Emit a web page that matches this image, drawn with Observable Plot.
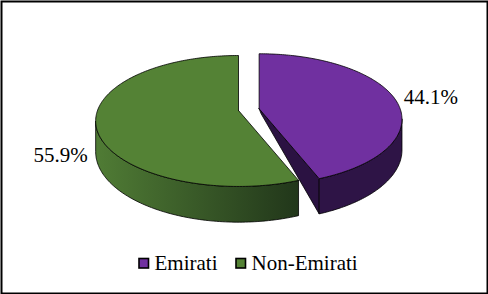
<!DOCTYPE html>
<html><head><meta charset="utf-8">
<script src="https://cdn.jsdelivr.net/npm/d3@7"></script>
<script src="https://cdn.jsdelivr.net/npm/@observablehq/plot@0.6"></script>
<style>body{margin:0;background:#fff}#chart svg{display:block}</style>
</head><body><div id="chart"></div>
<script>
// ---- data ----
const categories = ["Emirati", "Non-Emirati"];
const shares = [44.1, 55.9];
const valueLabels = ["44.1%", "55.9%"];

// ---- style / layout ----
const W = 488, H = 294;
const topColors = ["#7030a0", "#548235"];
const sideColors = ["#2e1446", "url(#greenSide)"];
const cutColors = ["#2b1242", "#22371a"];
const explode = [21, 0];
const geom = {cx: 238, cy: 110, R: 141, Rc: 63.8, q: 0.16, d: 30};
const font = "Liberation Serif";

const total = d3.sum(shares);
let acc = 0;
const slices = categories.map((c, i) => {
  const a0 = acc / total * 2 * Math.PI; acc += shares[i];
  const a1 = acc / total * 2 * Math.PI;
  return {c, i, a0, a1, mid: (a0 + a1) / 2};
});
function apex(s) { const e = explode[s.i]; return [geom.cx + e * Math.sin(s.mid), geom.cy - e * Math.cos(s.mid) * 0.45]; }
function P(s, t, h) {
  const [ax, ay] = apex(s); const Z = -Math.cos(t); const k = 1 / (1 - geom.q * Z);
  return [ax + geom.R * Math.sin(t) * k, ay + geom.Rc * Z * k + h * geom.d * k];
}
function arc(s, t0, t1, h) {
  const n = Math.max(2, Math.ceil(Math.abs(t1 - t0) / (Math.PI / 180)));
  return d3.range(n + 1).map(j => P(s, t0 + (t1 - t0) * j / n, h));
}
const sil0 = Math.acos(-geom.q), sil1 = 2 * Math.PI - sil0;

const sides = [], tops = [];
for (const s of slices) {
  if (Math.sin(s.a1) > 0.05) {
    const a = apex(s), rt = P(s, s.a1, 0), rb = P(s, s.a1, 1);
    sides.push({pts: [a, rt, rb, [a[0] + 2, a[1] + 5], a], fill: cutColors[s.i]});
  }
  const t0 = Math.max(s.a0, sil0), t1 = Math.min(s.a1, sil1);
  if (t1 > t0) {
    const pts = arc(s, t0, t1, 0).concat(arc(s, t1, t0, 1));
    pts.push(pts[0]);
    sides.push({pts, fill: sideColors[s.i]});
  }
  const a = apex(s);
  tops.push({pts: [a, ...arc(s, s.a0, s.a1, 0), a], fill: topColors[s.i]});
}

function labelPos(s) {
  const Z = -Math.cos(s.mid);
  return P(s, s.mid, Z > 0 ? 1 : 0);
}
const right = slices.filter(s => Math.sin(s.mid) >= 0);
const left = slices.filter(s => Math.sin(s.mid) < 0);

const legendItems = categories.map((c, i) => ({c, i}));
const legendX = [139, 236], legendY = 263;

const marks = [];
for (const p of [...sides, ...tops]) {
  marks.push(Plot.line(p.pts, {x: d => d[0], y: d => d[1], fill: p.fill, stroke: "#000", strokeWidth: 0.8, curve: "linear", strokeLinejoin: "round"}));
}
marks.push(
  Plot.text(right, {x: s => labelPos(s)[0], y: s => labelPos(s)[1], text: s => valueLabels[s.i], textAnchor: "start", dx: 10, dy: 0, fontSize: 21, fontFamily: font, fill: "#000"}),
  Plot.text(left, {x: s => labelPos(s)[0], y: s => labelPos(s)[1], text: s => valueLabels[s.i], textAnchor: "end", dx: -8, dy: 2, fontSize: 21, fontFamily: font, fill: "#000"}),
  Plot.rect(legendItems, {x1: d => legendX[d.i], x2: d => legendX[d.i] + 9.5, y1: legendY - 4.5, y2: legendY + 5, fill: d => topColors[d.i], stroke: "#000", strokeWidth: 1.6}),
  Plot.text(legendItems, {x: d => legendX[d.i] + 15, y: legendY, text: "c", textAnchor: "start", fontSize: 21, fontFamily: font, fill: "#000"}),
  Plot.frame({stroke: "#000", strokeWidth: 2, inset: 1})
);

const svg = Plot.plot({
  width: W, height: H, margin: 0,
  x: {domain: [0, W], range: [0, W], axis: null},
  y: {domain: [0, H], range: [0, H], axis: null},
  color: {type: "identity"},
  style: {fontFamily: font, background: "#fff", overflow: "visible"},
  marks
});
const defs = d3.select(svg).insert("defs", ":first-child");
const g = defs.append("linearGradient").attr("id", "greenSide").attr("gradientUnits", "userSpaceOnUse")
  .attr("x1", 95).attr("x2", 300).attr("y1", 0).attr("y2", 0);
g.append("stop").attr("offset", "0%").attr("stop-color", "#507c35");
g.append("stop").attr("offset", "100%").attr("stop-color", "#21361a");
document.getElementById("chart").appendChild(svg);
</script></body></html>
